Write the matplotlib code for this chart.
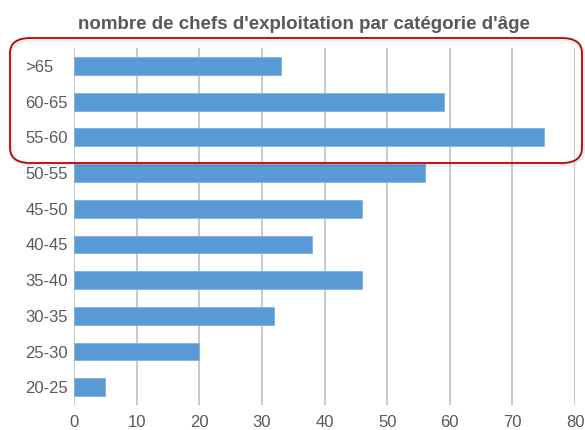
import matplotlib.pyplot as plt
from matplotlib.patches import FancyBboxPatch

plt.rcParams['font.family'] = ['Liberation Sans', 'DejaVu Sans']

categories = ['20-25', '25-30', '30-35', '35-40', '40-45', '45-50', '50-55', '55-60', '60-65', '>65']
counts = [5, 20, 32, 46, 38, 46, 56, 75, 59, 33]
ticks = [0, 10, 20, 30, 40, 50, 60, 70, 80]

fig = plt.figure(figsize=(5.85, 4.3), dpi=100)
ax = fig.add_axes([0.1265, 0.058, 0.8565, 0.83])

ax.barh(categories, counts, height=0.5, color='#5B9BD5', edgecolor='#7FB1E0', linewidth=0.6, zorder=3)
ax.set_xlim(0, 80)
ax.set_ylim(-0.5, 9.5)
ax.set_xticks(ticks)
ax.grid(axis='x', color='#C4C4C4', linewidth=1.3, zorder=0)
for s in ax.spines.values():
    s.set_visible(False)
ax.tick_params(axis='both', length=0, labelsize=12, labelcolor='#595959')
ax.tick_params(axis='y', pad=35)
ax.tick_params(axis='x', pad=7)
for lab in ax.get_yticklabels():
    lab.set_horizontalalignment('left')

fig.text(0.52, 0.943, "nombre de chefs d'exploitation par catégorie d'âge",
         ha='center', va='center', fontsize=13.5, fontweight='bold', color='#595959')

# highlight box with a soft shadow
shadow = FancyBboxPatch((11 / 585, 1 - 164.5 / 430), 572 / 585, 125 / 430,
                        boxstyle='round,pad=0,rounding_size=0.035',
                        transform=fig.transFigure, facecolor='none',
                        edgecolor='#000000', alpha=0.07, linewidth=3, zorder=9)
fig.patches.append(shadow)
box = FancyBboxPatch((10 / 585, 1 - 163 / 430), 572 / 585, 125 / 430,
                     boxstyle='round,pad=0,rounding_size=0.035',
                     transform=fig.transFigure, facecolor='none',
                     edgecolor='#C00000', linewidth=1.3, zorder=10)
fig.patches.append(box)

fig.savefig('out.png', dpi=100)
